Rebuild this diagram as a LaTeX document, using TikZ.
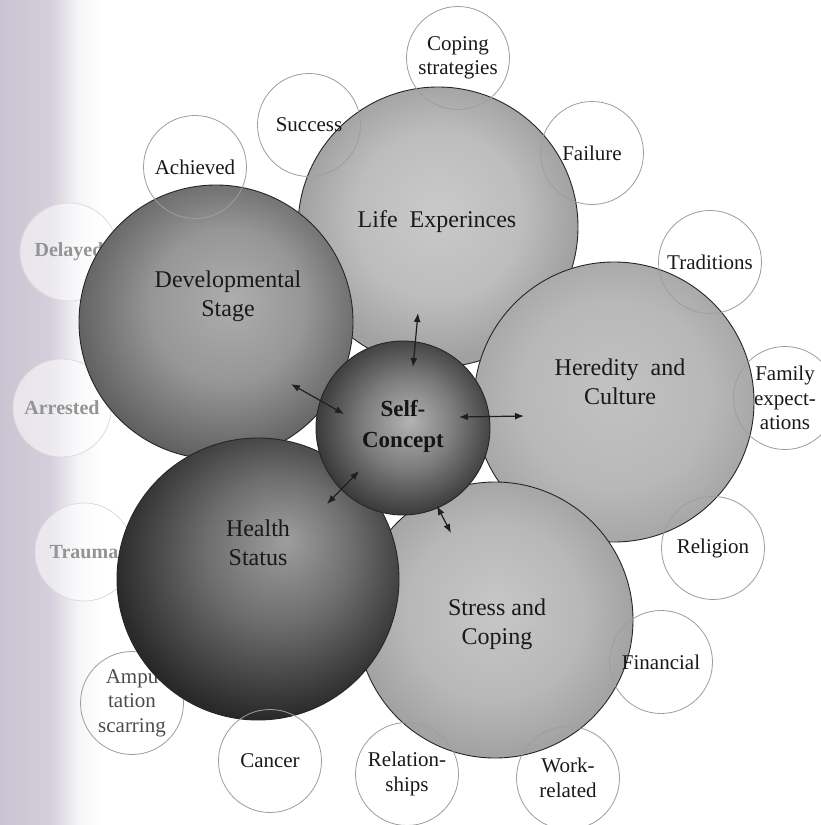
\documentclass[tikz,border=0pt]{standalone}
\usepackage{fontspec}
\setmainfont{Liberation Serif}
\usetikzlibrary{arrows.meta}

% grey band along the left margin (the filled path spans 25bp..75bp)
\pgfdeclarehorizontalshading{edgeshade}{100bp}{rgb(0bp)=(.79,.77,.82); rgb(25bp)=(.79,.77,.82); rgb(50bp)=(.83,.81,.86); rgb(64bp)=(.96,.96,.97); rgb(75bp)=(1,1,1); rgb(100bp)=(1,1,1)}
% fills of the large spheres (the circle rim lies at 25bp)
\pgfdeclareradialshading{lifeshade}{\pgfpoint{0bp}{3bp}}{rgb(0bp)=(.79,.79,.79); rgb(15bp)=(.74,.74,.74); rgb(25bp)=(.63,.63,.63); rgb(50bp)=(.63,.63,.63)}
\pgfdeclareradialshading{heredshade}{\pgfpoint{0bp}{2bp}}{rgb(0bp)=(.76,.76,.76); rgb(17bp)=(.72,.72,.72); rgb(25bp)=(.66,.66,.66); rgb(50bp)=(.66,.66,.66)}
\pgfdeclareradialshading{stressshade}{\pgfpoint{0bp}{2bp}}{rgb(0bp)=(.78,.78,.78); rgb(16bp)=(.72,.72,.72); rgb(25bp)=(.64,.64,.64); rgb(50bp)=(.64,.64,.64)}
\pgfdeclareradialshading{devshade}{\pgfpoint{3bp}{4bp}}{rgb(0bp)=(.68,.68,.68); rgb(14bp)=(.59,.59,.59); rgb(27bp)=(.38,.38,.38); rgb(50bp)=(.38,.38,.38)}
\pgfdeclareradialshading{healthshade}{\pgfpoint{5bp}{7bp}}{rgb(0bp)=(.62,.62,.62); rgb(13bp)=(.43,.43,.43); rgb(28bp)=(.16,.16,.16); rgb(50bp)=(.16,.16,.16)}
\pgfdeclareradialshading{selfshade}{\pgfpoint{2bp}{2bp}}{rgb(0bp)=(.70,.70,.70); rgb(13bp)=(.49,.49,.49); rgb(26bp)=(.23,.23,.23); rgb(50bp)=(.23,.23,.23)}

\begin{document}
\begin{tikzpicture}[x=1pt,y=-1pt,
  big/.style={circle, inner sep=0pt, draw=black!85, line width=0.9pt},
  small/.style={circle, inner sep=0pt, minimum size=103pt, draw=black!38, line width=0.8pt,
    align=center, text=black!90, font=\fontsize{21}{24.5}\selectfont},
  faded/.style={circle, inner sep=0pt, minimum size=98pt, draw=black!14, line width=0.8pt,
    fill=white, fill opacity=0.55, text opacity=1, text=black!42,
    font=\bfseries\fontsize{20}{24}\selectfont},
  bigtext/.style={align=center, text=black!90, font=\fontsize{24}{29}\selectfont},
  selftext/.style={align=center, text=black!92, font=\bfseries\fontsize{23}{31}\selectfont},
  link/.style={{Latex[length=9pt,width=7pt]}-{Latex[length=9pt,width=7pt]}, line width=1.2pt, black!88}]

\useasboundingbox (0,0) rectangle (821,825);
\fill[white] (0,0) rectangle (821,825);
\shade[shading=edgeshade] (0,0) rectangle (100,825);

% satellites lying partly behind the large spheres
\node[faded] (delayed) at (69,252) {Delayed};
\node[faded] (arrested) at (62,408) {Arrested};
\node[faded] (trauma) at (84,552) {Trauma};
\node[small, text=black!70] (amput) at (132,703) {Ampu\\tation\\scarring};

% large spheres, back to front
\node[big, minimum size=280pt, shading=lifeshade] (life) at (438,227) {};
\node[big, minimum size=280pt, shading=heredshade] (hered) at (614,402) {};
\node[big, minimum size=276pt, shading=stressshade] (stress) at (495,620) {};
\node[big, minimum size=274pt, shading=devshade] (dev) at (216,322) {};
\node[big, minimum size=282pt, shading=healthshade] (health) at (258,579) {};
\node[big, minimum size=174pt, shading=selfshade] (self) at (403,428) {};

% sphere labels
\node[bigtext] (lifelabel) at (437,222) {Life\ \ Experinces};
\node[bigtext] (devlabel) at (228,296) {Developmental\\Stage};
\node[bigtext] (heredlabel) at (620,382) {Heredity\ \ and\\Culture};
\node[bigtext] (healthlabel) at (258,543) {Health\\Status};
\node[bigtext] (stresslabel) at (497,624) {Stress and\\Coping};
\node[selftext] (selflabel) at (403,426) {Self-\\Concept};

% arrows leaving the central sphere
\coordinate (upA) at (413,367);   \coordinate (upB) at (418,313);
\coordinate (lfA) at (344,414);   \coordinate (lfB) at (291,384);
\coordinate (rtA) at (459,417);   \coordinate (rtB) at (524,416);
\coordinate (dlA) at (359,471);   \coordinate (dlB) at (327,504);
\coordinate (drA) at (437,506);   \coordinate (drB) at (451,533);
\draw[link] (upA) -- (upB);
\draw[link] (lfA) -- (lfB);
\draw[link] (rtA) -- (rtB);
\draw[link] (dlA) -- (dlB);
\draw[link] (drA) -- (drB);

% satellites drawn over the spheres
\node[small] (coping) at (458,58) {Coping\\strategies};
\node[small] (success) at (309,125) {Success};
\node[small] (failure) at (592,153) {Failure};
\node[small] (achieved) at (195,167) {Achieved};
\node[small] (traditions) at (710,262) {Traditions};
\node[small] (family) at (785,398) {Family\\expect-\\ations};
\node[small] (religion) at (713,548) {Religion};
\node[small] (financial) at (661,662) {Financial};
\node[small] (work) at (568,778) {Work-\\related};
\node[small] (relations) at (407,774) {Relation-\\ships};
\node[small] (cancer) at (270,761) {Cancer};
\end{tikzpicture}
\end{document}
